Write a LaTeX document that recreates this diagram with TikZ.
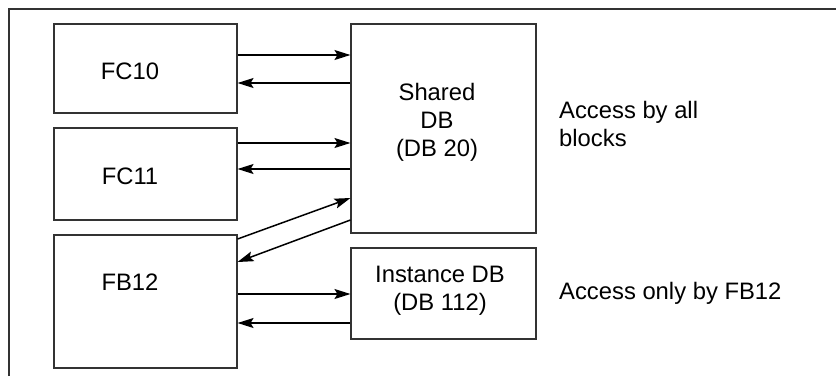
\documentclass[tikz,border=0pt]{standalone}
\usepackage{fontspec}
\setmainfont{Liberation Sans}
\usetikzlibrary{arrows.meta}
\begin{document}
\begin{tikzpicture}[x=1pt,y=-1pt,
  box/.style={draw=black!80,line width=1.1pt,inner sep=0pt},
  lbl/.style={inner sep=0pt,font=\fontsize{23.8}{28}\selectfont,align=center},
  arr/.style={line width=1.5pt,-{Stealth[length=16pt,width=10pt,inset=3pt]}}]
\useasboundingbox (0,0) rectangle (836,376);
\draw[black!80,line width=1.1pt] (9,376) -- (9,9) -- (836,9);
% boxes
\node[box,minimum width=183pt,minimum height=89pt] (fc10) at (145.5,68.5) {};
\node[box,minimum width=183pt,minimum height=92pt] (fc11) at (145.5,174) {};
\node[box,minimum width=183pt,minimum height=133pt] (fb12) at (145.5,301.5) {};
\node[box,minimum width=185pt,minimum height=209pt] (shared) at (443.5,128.5) {};
\node[box,minimum width=185pt,minimum height=91pt] (inst) at (443.5,293.5) {};
% texts
\node[lbl] (t10) at (130,71) {FC10};
\node[lbl] (t11) at (130,176) {FC11};
\node[lbl] (t12) at (130,282) {FB12};
\node[lbl] (tsh) at (437,122) {Shared\\DB\\(DB 20)};
\node[lbl] (tin) at (440,291) {Instance DB\\(DB 112)};
\node[lbl,anchor=west,align=left] (acc1) at (559,123.5) {Access by all\\blocks};
\node[lbl,anchor=west] (acc2) at (559,293) {Access only by FB12};
% arrows
\draw[arr] (fc10.east |- 0,55) -- (shared.west |- 0,55);
\draw[arr] (shared.west |- 0,83) -- (fc10.east |- 0,83);
\draw[arr] (fc11.east |- 0,143) -- (shared.west |- 0,143);
\draw[arr] (shared.west |- 0,169) -- (fc11.east |- 0,169);
\draw[arr] (fb12.east |- 0,239) -- (shared.west |- 0,198);
\draw[arr] (shared.west |- 0,220) -- (fb12.east |- 0,262);
\draw[arr] (fb12.east |- 0,294) -- (inst.west |- 0,294);
\draw[arr] (inst.west |- 0,323) -- (fb12.east |- 0,323);
\end{tikzpicture}
\end{document}
